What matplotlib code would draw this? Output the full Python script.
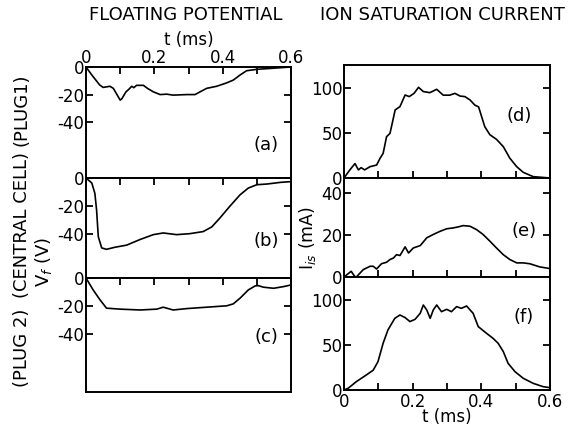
import numpy as np
import matplotlib.pyplot as plt

# floating potential, V_f (V)
t_a = [0, 0.017, 0.04, 0.05, 0.07, 0.08, 0.10, 0.105, 0.117, 0.124, 0.134, 0.14, 0.148,
       0.168, 0.18, 0.197, 0.217, 0.236, 0.255, 0.295, 0.319, 0.334, 0.353, 0.382,
       0.412, 0.431, 0.451, 0.47, 0.50, 0.53, 0.57, 0.6]
v_a = [0, -5.8, -13, -14.8, -14, -15.5, -24, -23, -18, -16.5, -14, -15, -13.3,
       -13.3, -15.5, -18, -20, -19.7, -20.4, -20, -20, -18, -15.5, -14,
       -11.5, -9.5, -5.8, -2.7, -1.7, -1.2, -0.5, 0]

t_b = [0, 0.017, 0.026, 0.031, 0.036, 0.046, 0.06, 0.085, 0.119, 0.158, 0.197, 0.226,
       0.265, 0.304, 0.343, 0.368, 0.392, 0.421, 0.451, 0.475, 0.50, 0.53, 0.57, 0.6]
v_b = [0, -3.6, -11, -23, -42, -50, -51, -49.5, -48, -44, -40.5, -39.3,
       -40.5, -39.8, -38.3, -35, -28.6, -20.2, -12, -7.2, -4.8, -4.3, -3.1, -2.6]

t_c = [0, 0.021, 0.041, 0.06, 0.10, 0.158, 0.207, 0.226, 0.255, 0.295, 0.353, 0.412,
       0.431, 0.451, 0.475, 0.495, 0.505, 0.519, 0.549, 0.578, 0.6]
v_c = [0, -8.6, -15.7, -21.7, -22.4, -23, -22.4, -21, -23, -22, -21, -20,
       -18.6, -14.5, -8.6, -5.7, -5.5, -6.6, -7.4, -6.2, -5]

# ion saturation current, I_is (mA)
t_d = [0, 0.017, 0.032, 0.042, 0.05, 0.06, 0.076, 0.095, 0.105, 0.114, 0.124, 0.134,
       0.149, 0.163, 0.178, 0.19, 0.204, 0.217, 0.231, 0.25, 0.27, 0.289, 0.308,
       0.323, 0.338, 0.352, 0.367, 0.381, 0.392, 0.41, 0.425, 0.444, 0.464, 0.483,
       0.503, 0.522, 0.551, 0.6]
i_d = [0, 9, 16, 9, 11.5, 9, 12.6, 14.4, 21.9, 27.4, 45.9, 49.6,
       75.6, 79.3, 92.2, 90.4, 94, 100.7, 96, 94.8, 98.5, 92, 92,
       94, 91, 90.4, 86.7, 81, 79, 57, 48, 43, 34.8, 22,
       12.6, 6.3, 1.5, 0]

t_e = [0, 0.017, 0.021, 0.031, 0.036, 0.056, 0.076, 0.085, 0.095, 0.109, 0.124, 0.134,
       0.144, 0.153, 0.163, 0.178, 0.188, 0.202, 0.222, 0.241, 0.26, 0.28, 0.299,
       0.318, 0.333, 0.347, 0.367, 0.386, 0.405, 0.425, 0.444, 0.464, 0.483, 0.503,
       0.522, 0.541, 0.57, 0.6]
i_e = [0, 2.2, 2.7, 0.3, 0, 3.5, 5.1, 5.1, 3.8, 6.3, 7, 8.3,
       9, 10.6, 10.2, 14.3, 11.4, 13.8, 14.9, 18.6, 20.2, 21.7, 22.9,
       23.3, 23.8, 24.4, 24.1, 22.5, 20.2, 17, 13.8, 10.6, 8.3, 6.7,
       6.7, 6.3, 4.8, 4]

t_f = [0, 0.012, 0.036, 0.065, 0.085, 0.099, 0.114, 0.128, 0.148, 0.163, 0.178, 0.192,
       0.207, 0.222, 0.231, 0.241, 0.251, 0.26, 0.27, 0.284, 0.299, 0.313, 0.328,
       0.342, 0.357, 0.376, 0.391, 0.415, 0.434, 0.449, 0.464, 0.478, 0.498, 0.522,
       0.551, 0.58, 0.6]
i_f = [0, 1.9, 9.3, 16.7, 22, 31.5, 52, 66.7, 79.6, 83.3, 80.4, 76,
       78.5, 85.2, 94.4, 88.9, 79.6, 88.9, 94.4, 87, 89.6, 87, 92.6,
       90.7, 93.3, 85.2, 70.4, 63, 57.4, 51.9, 42.6, 29.6, 20.4, 13,
       7.4, 3.7, 2.6]

x_ticks = np.arange(0, 0.61, 0.1)
x_labels = ["0", "", "0.2", "", "0.4", "", "0.6"]

plt.rcParams.update({
    "font.family": "DejaVu Sans",
    "font.size": 12,
    "axes.linewidth": 1.4,
    "xtick.direction": "in",
    "ytick.direction": "in",
    "xtick.major.size": 5,
    "ytick.major.size": 5,
    "xtick.major.width": 1.3,
    "ytick.major.width": 1.3,
    "xtick.labelsize": 12,
    "ytick.labelsize": 12,
})

W, H = 570, 425
fig = plt.figure(figsize=(W / 100, H / 100), dpi=100)


def add_panel(x0, x1, y_top, y_bot):
    return fig.add_axes([x0 / W, 1 - y_bot / H, (x1 - x0) / W, (y_bot - y_top) / H])


def px_text(x, y, s, **kw):
    fig.text(x / W, 1 - y / H, s, ha="center", va="center", **kw)


LX0, LX1 = 86, 291
RX0, RX1 = 344, 550

ax_a = add_panel(LX0, LX1, 67, 178)
ax_b = add_panel(LX0, LX1, 178, 278)
ax_c = add_panel(LX0, LX1, 278, 392)
ax_d = add_panel(RX0, RX1, 65, 178)
ax_e = add_panel(RX0, RX1, 178, 277)
ax_f = add_panel(RX0, RX1, 277, 390)

lw = 1.2
for ax, t, v, ylo in [(ax_a, t_a, v_a, -80.5),
                      (ax_b, t_b, v_b, -71.5),
                      (ax_c, t_c, v_c, -82)]:
    ax.plot(t, v, color="black", lw=lw)
    ax.set_xlim(0, 0.6)
    ax.set_ylim(ylo, 0)
    ax.set_yticks([0, -20, -40], ["0", "-20", "-40"])
    ax.set_xticks(x_ticks)
    ax.tick_params(axis="x", top=True, bottom=False, labelbottom=False, labeltop=False)
    ax.tick_params(axis="y", left=True, right=True, pad=1)

ax_a.set_xticks(x_ticks, x_labels)
ax_a.tick_params(axis="x", labeltop=True, pad=0)
ax_a.set_xlabel("t (ms)", labelpad=3)
ax_a.xaxis.set_label_position("top")

for ax, t, v, ytop, yt in [(ax_d, t_d, i_d, 125.5, [0, 50, 100]),
                           (ax_e, t_e, i_e, 47, [0, 20, 40]),
                           (ax_f, t_f, i_f, 125.5, [0, 50, 100])]:
    ax.plot(t, v, color="black", lw=lw)
    ax.set_xlim(0, 0.6)
    ax.set_ylim(0, ytop)
    ax.set_yticks(yt)
    ax.set_xticks(x_ticks)
    ax.tick_params(axis="x", top=False, bottom=True, labelbottom=False)
    ax.tick_params(axis="y", left=True, right=True, pad=1)

ax_f.set_xticks(x_ticks, x_labels)
ax_f.tick_params(axis="x", labelbottom=True, pad=2)
ax_f.set_xlabel("t (ms)", labelpad=-2)

# panel tags
for x, y, s in [(266, 145, "(a)"), (266, 241, "(b)"), (266, 337, "(c)"),
                (519, 116, "(d)"), (524, 231, "(e)"), (524, 317, "(f)")]:
    px_text(x, y, s, fontsize=13)

px_text(186, 15, "FLOATING POTENTIAL", fontsize=13)
px_text(442, 15, "ION SATURATION CURRENT", fontsize=13)

px_text(22, 110, "(PLUG1)", rotation=90, fontsize=13)
px_text(22, 225, "(CENTRAL CELL)", rotation=90, fontsize=13)
px_text(22, 348, "(PLUG 2)", rotation=90, fontsize=13)
px_text(43, 262, "V$_f$ (V)", rotation=90, fontsize=13)
px_text(307, 238, "I$_{is}$ (mA)", rotation=90, fontsize=12.5)

fig.savefig("out.png", dpi=100)
